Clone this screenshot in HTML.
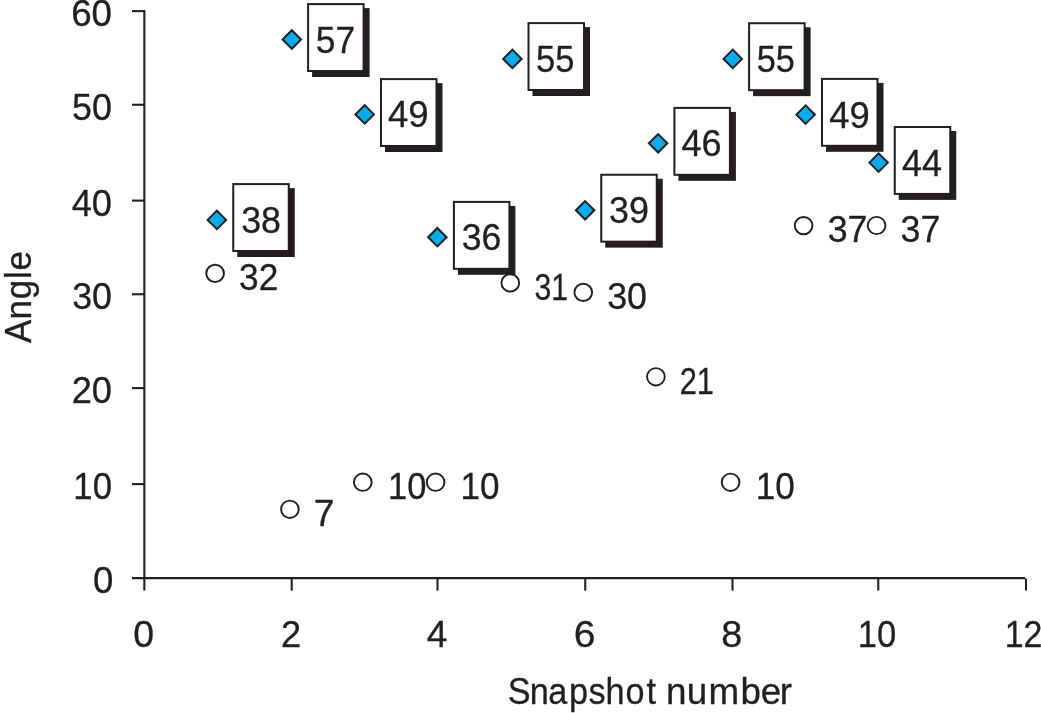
<!DOCTYPE html>
<html lang="en"><head><meta charset="utf-8"><title>Angle vs snapshot number</title>
<style>html,body{margin:0;padding:0;background:#fff;overflow:hidden}svg{display:block}text{font-family:"Liberation Sans",sans-serif;font-size:36.8px;fill:#231f20;stroke:#231f20;stroke-width:.3px;stroke-linejoin:round}</style>
</head><body>
<svg width="1041" height="713" viewBox="0 0 1041 713">
<rect width="1041" height="713" fill="#fff"/>
<g stroke="#231f20" stroke-width="2.1" fill="none" stroke-linecap="butt">
<path d="M144.35 10.05V590.6"/>
<path d="M132 578.1H1025.2"/>
<path d="M132 11.1H144.35"/>
<path d="M132 104.75H144.35"/>
<path d="M132 200.6H144.35"/>
<path d="M132 294.25H144.35"/>
<path d="M132 388.1H144.35"/>
<path d="M132 484.1H144.35"/>
<path d="M291.7 578.1V590.6"/>
<path d="M437.5 578.1V590.6"/>
<path d="M585.25 578.1V590.6"/>
<path d="M732.5 578.1V590.6"/>
<path d="M878.25 578.1V590.6"/>
<path d="M1026 578.5V590.6"/>
</g>
<text transform="translate(71.13 25.60) scale(0.9993 1)">60</text>
<text transform="translate(72.06 119.70) scale(0.9758 1)">50</text>
<text transform="translate(71.67 215.60) scale(0.9857 1)">40</text>
<text transform="translate(72.14 309.40) scale(0.9739 1)">30</text>
<text transform="translate(71.68 403.40) scale(0.9855 1)">20</text>
<text transform="translate(73.36 499.20) scale(0.9430 1)">10</text>
<text transform="translate(92.97 592.80) scale(0.9948 1)">0</text>
<text transform="translate(133.14 646.50) scale(1.0175 1)">0</text>
<text transform="translate(281.08 646.50) scale(0.9842 1)">2</text>
<text transform="translate(426.65 646.50) scale(1.0111 1)">4</text>
<text transform="translate(573.77 646.50) scale(1.0600 1)">6</text>
<text transform="translate(721.36 646.50) scale(1.0279 1)">8</text>
<text transform="translate(857.86 646.50) scale(0.9403 1)">10</text>
<text transform="translate(1004.66 646.50) scale(0.9234 1)">12</text>
<text transform="translate(507.74 703.60) scale(0.9300 1)" x="0.00 23.72 43.67 65.92 86.87 105.01 126.65 149.27">Snapshot</text>
<text transform="translate(665.89 703.60) scale(1.0000 1)" x="0.00 20.75 42.62 74.56 94.86 113.97">number</text>
<text transform="translate(31.40 343.06) rotate(-90) scale(0.9500 1)" x="0.00 24.70 46.14 67.49 76.39">Angle</text>
<rect x="237.25" y="188.10" width="57.5" height="68.9" fill="#231f20"/>
<rect x="233.25" y="184.10" width="55.50" height="66.90" fill="#fff" stroke="#231f20" stroke-width="2.0"/>
<rect x="312.10" y="8.10" width="57.5" height="68.9" fill="#231f20"/>
<rect x="308.10" y="4.10" width="55.50" height="66.90" fill="#fff" stroke="#231f20" stroke-width="2.0"/>
<rect x="385.00" y="83.10" width="57.5" height="68.9" fill="#231f20"/>
<rect x="381.00" y="79.10" width="55.50" height="66.90" fill="#fff" stroke="#231f20" stroke-width="2.0"/>
<rect x="457.90" y="205.90" width="57.5" height="68.9" fill="#231f20"/>
<rect x="453.90" y="201.90" width="55.50" height="66.90" fill="#fff" stroke="#231f20" stroke-width="2.0"/>
<rect x="532.50" y="27.10" width="57.5" height="68.9" fill="#231f20"/>
<rect x="528.50" y="23.10" width="55.50" height="66.90" fill="#fff" stroke="#231f20" stroke-width="2.0"/>
<rect x="605.25" y="178.75" width="57.5" height="68.9" fill="#231f20"/>
<rect x="601.25" y="174.75" width="55.50" height="66.90" fill="#fff" stroke="#231f20" stroke-width="2.0"/>
<rect x="678.40" y="111.90" width="57.5" height="68.9" fill="#231f20"/>
<rect x="674.40" y="107.90" width="55.50" height="66.90" fill="#fff" stroke="#231f20" stroke-width="2.0"/>
<rect x="753.10" y="27.25" width="57.5" height="68.9" fill="#231f20"/>
<rect x="749.10" y="23.25" width="55.50" height="66.90" fill="#fff" stroke="#231f20" stroke-width="2.0"/>
<rect x="826.00" y="82.90" width="57.5" height="68.9" fill="#231f20"/>
<rect x="822.00" y="78.90" width="55.50" height="66.90" fill="#fff" stroke="#231f20" stroke-width="2.0"/>
<rect x="898.75" y="131.00" width="57.5" height="68.9" fill="#231f20"/>
<rect x="894.75" y="127.00" width="55.50" height="66.90" fill="#fff" stroke="#231f20" stroke-width="2.0"/>
<text transform="translate(241.14 232.90) scale(0.9728 1)">38</text>
<text transform="translate(315.83 52.50) scale(0.9612 1)">57</text>
<text transform="translate(387.91 127.40) scale(0.9949 1)">49</text>
<text transform="translate(461.75 250.20) scale(0.9667 1)">36</text>
<text transform="translate(536.12 71.90) scale(0.9390 1)">55</text>
<text transform="translate(609.03 223.30) scale(0.9752 1)">39</text>
<text transform="translate(681.42 156.30) scale(0.9813 1)">46</text>
<text transform="translate(756.72 71.90) scale(0.9337 1)">55</text>
<text transform="translate(829.17 127.60) scale(0.9884 1)">49</text>
<text transform="translate(901.92 175.60) scale(0.9780 1)">44</text>
<path d="M207.66 219.90L216.90 210.66L226.14 219.90L216.90 229.14Z" fill="#00aeef" stroke="#231f20" stroke-width="2.0" stroke-linejoin="miter"/>
<path d="M282.56 39.50L291.80 30.26L301.04 39.50L291.80 48.74Z" fill="#00aeef" stroke="#231f20" stroke-width="2.0" stroke-linejoin="miter"/>
<path d="M355.46 114.40L364.70 105.16L373.94 114.40L364.70 123.64Z" fill="#00aeef" stroke="#231f20" stroke-width="2.0" stroke-linejoin="miter"/>
<path d="M428.16 237.20L437.40 227.96L446.64 237.20L437.40 246.44Z" fill="#00aeef" stroke="#231f20" stroke-width="2.0" stroke-linejoin="miter"/>
<path d="M503.16 58.90L512.40 49.66L521.64 58.90L512.40 68.14Z" fill="#00aeef" stroke="#231f20" stroke-width="2.0" stroke-linejoin="miter"/>
<path d="M575.86 210.30L585.10 201.06L594.34 210.30L585.10 219.54Z" fill="#00aeef" stroke="#231f20" stroke-width="2.0" stroke-linejoin="miter"/>
<path d="M648.86 143.30L658.10 134.06L667.34 143.30L658.10 152.54Z" fill="#00aeef" stroke="#231f20" stroke-width="2.0" stroke-linejoin="miter"/>
<path d="M723.51 58.90L732.75 49.66L741.99 58.90L732.75 68.14Z" fill="#00aeef" stroke="#231f20" stroke-width="2.0" stroke-linejoin="miter"/>
<path d="M796.36 114.60L805.60 105.36L814.84 114.60L805.60 123.84Z" fill="#00aeef" stroke="#231f20" stroke-width="2.0" stroke-linejoin="miter"/>
<path d="M869.36 162.60L878.60 153.36L887.84 162.60L878.60 171.84Z" fill="#00aeef" stroke="#231f20" stroke-width="2.0" stroke-linejoin="miter"/>
<ellipse cx="215.1" cy="273.4" rx="8.85" ry="8.65" fill="#fff" stroke="#231f20" stroke-width="1.9"/>
<ellipse cx="289.9" cy="509.3" rx="8.85" ry="8.65" fill="#fff" stroke="#231f20" stroke-width="1.9"/>
<ellipse cx="362.8" cy="482.2" rx="8.85" ry="8.65" fill="#fff" stroke="#231f20" stroke-width="1.9"/>
<ellipse cx="435.6" cy="482.2" rx="8.85" ry="8.65" fill="#fff" stroke="#231f20" stroke-width="1.9"/>
<ellipse cx="510.3" cy="282.9" rx="8.85" ry="8.65" fill="#fff" stroke="#231f20" stroke-width="1.9"/>
<ellipse cx="583.25" cy="292.4" rx="8.85" ry="8.65" fill="#fff" stroke="#231f20" stroke-width="1.9"/>
<ellipse cx="655.9" cy="376.8" rx="8.85" ry="8.65" fill="#fff" stroke="#231f20" stroke-width="1.9"/>
<ellipse cx="730.6" cy="482.3" rx="8.85" ry="8.65" fill="#fff" stroke="#231f20" stroke-width="1.9"/>
<ellipse cx="803.6" cy="225.6" rx="8.85" ry="8.65" fill="#fff" stroke="#231f20" stroke-width="1.9"/>
<ellipse cx="876.6" cy="225.5" rx="8.85" ry="8.65" fill="#fff" stroke="#231f20" stroke-width="1.9"/>
<text transform="translate(239.06 290.10) scale(0.9581 1)">32</text>
<text transform="translate(313.69 526.00) scale(1.0102 1)">7</text>
<text transform="translate(387.97 499.10) scale(0.9375 1)">10</text>
<text transform="translate(460.43 499.10) scale(0.9539 1)">10</text>
<text transform="translate(534.45 299.80) scale(0.8189 1)">31</text>
<text transform="translate(607.13 309.40) scale(0.9739 1)">30</text>
<text transform="translate(679.70 393.75) scale(0.8381 1)">21</text>
<text transform="translate(755.83 499.10) scale(0.9539 1)">10</text>
<text transform="translate(827.64 242.30) scale(0.9713 1)">37</text>
<text transform="translate(900.54 242.30) scale(0.9713 1)">37</text>
</svg>
</body></html>
